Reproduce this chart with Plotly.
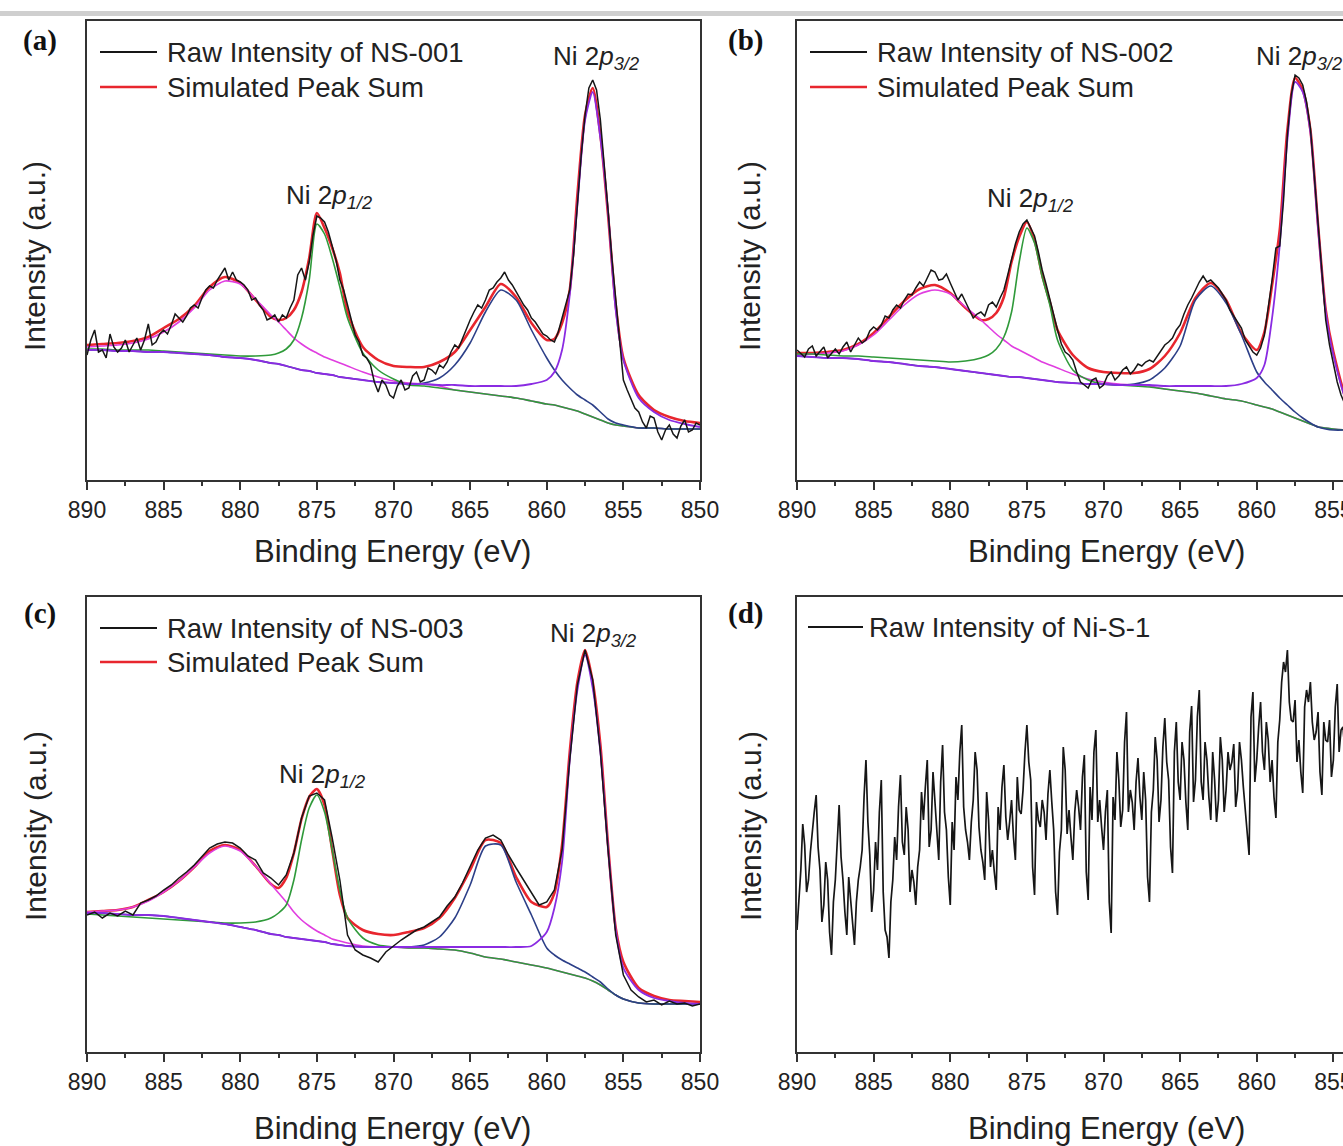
import plotly.graph_objects as go

W, H = 1343, 1146
FONT = "Liberation Sans, Arial, Helvetica, sans-serif"
SERIF = "Liberation Serif, Times New Roman, serif"

# ---------------- data ----------------
# energy grid of the fitted curves (eV)
E_FIT = [890, 889, 888, 887, 886, 885, 884, 883, 882, 881, 880, 879, 878,
         877.5, 877, 876.5, 876, 875.5, 875, 874.5, 874, 873.5, 873,
         872, 871, 870, 869, 868, 867, 866, 865, 864, 863, 862, 861, 860,
         859.5, 859, 858.5, 858, 857.5, 857, 856.5, 856, 855.5, 855,
         854, 853, 852, 851, 850]
RAW_START = 890.0
RAW_FINE = 0.25     # NS-001, NS-002 samples
RAW_COARSE = 0.5    # NS-003 sample
RAW_D_STEP = 0.125  # Ni-S-1 sample

# ---- (a) NS-001 (890 -> 850 eV, 0.25 eV step) ----
RAW_A = [125,
         140, 150, 128, 130,  122, 146, 133, 128,  132, 140, 128, 135,  142, 130, 140, 156,
         135, 138, 146, 150,  146, 155, 166, 162,  158, 164, 172, 175,  172, 182, 190, 194,
         192, 200, 206, 212,  200, 208, 200, 198,  195, 190, 180, 182,  175, 170, 160, 162,
         165, 158, 165, 162,  172, 180, 205, 212,  200, 218, 245, 264,  262, 258, 248, 235,
         220, 200, 190, 175,  160, 145, 138, 125,  122, 115, 98, 88,    100, 95, 85, 82,
         94, 100, 90, 92,     104, 108, 98, 100,  112, 110, 106, 115,  112, 118, 128, 135,
         132, 142, 152, 160,  168, 175, 172, 180,  190, 192, 198, 202,  208, 200, 195, 188,
         182, 175, 170, 162,  158, 152, 146, 144,  140, 138, 148, 162,  176, 190, 225, 280,
         325, 365, 392, 400,  390, 360, 318, 270,  222, 180, 135, 100,  90, 80, 72, 68,
         58, 52, 64, 62,      48, 40, 50, 55,     46, 42, 54, 60,      48, 50, 57, 55]
SUM_A = [135, 136, 137, 139, 143, 152, 161, 174, 193, 203, 197, 180, 163, 160, 162, 170, 188, 222, 267, 252,
         232, 207, 168, 133, 120, 114, 113, 113, 118, 128, 150, 173, 196, 183, 157, 140, 141, 157, 190, 285,
         365, 392, 345, 265, 175, 122, 85, 70, 63, 59, 57]
SAT1_A = [133, 134, 135, 137, 141, 148, 158, 172, 190, 199, 196, 181, 165, 158, 150, 142, 136, 131, 127, 123,
          120, 117, 114, 108, 103, 99, 97, 96, 94, 90, 88, 86, 84, 82, 79, 76, 75, 73, 71, 69,
          66, 63, 60, 57, 55, 54, 52, 52, 51, 51, 51]
P12_A = [131, 131, 130, 130, 130, 129, 128, 127, 126, 125, 124, 124, 125, 127, 131, 140, 162, 200, 256, 246,
         222, 193, 162, 127, 110, 101, 95, 94, 92, 90, 88, 86, 84, 82, 79, 76, 75, 73, 71, 69,
         66, 63, 60, 57, 55, 54, 52, 52, 51, 51, 51]
SAT2_A = [130, 130, 129, 129, 128, 128, 127, 126, 125, 123, 122, 120, 117, 116, 114, 112, 110, 109, 107, 106,
          105, 103, 102, 100, 98, 97, 96, 97, 102, 115, 137, 168, 190, 180, 150, 122, 110, 100, 92, 85,
          80, 75, 68, 61, 57, 55, 52, 52, 51, 51, 51]
P32_A = [130, 130, 129, 129, 128, 128, 127, 126, 125, 123, 122, 120, 117, 116, 114, 112, 110, 109, 107, 106,
         105, 103, 102, 100, 98, 97, 96, 96, 95, 95, 94, 94, 94, 94, 96, 100, 108, 130, 185, 275,
         360, 388, 342, 268, 170, 120, 82, 68, 60, 56, 53]

# ---- (b) NS-002 (890 -> 850 eV, 0.25 eV step) ----
RAW_B = [130,
         126, 123, 131, 134,  124, 128, 133, 122,  127, 131, 126, 133,  138, 128, 135, 142,
         137, 140, 149, 153,  150, 155, 164, 162,  170, 175, 172, 180,  186, 185, 192, 198,
         194, 202, 210, 208,  200, 201, 206, 197,  188, 180, 186, 178,  170, 162, 166, 168,
         164, 175, 178, 173,  182, 190, 205, 222,  236, 248, 256, 260,  252, 244, 228, 210,
         196, 180, 164, 150,  136, 128, 125, 120,  108, 98, 95, 92,    100, 102, 92, 95,
         104, 108, 100, 104,  110, 113, 106, 110,  116, 114, 118, 120,  118, 124, 130, 135,
         138, 142, 150, 155,  166, 175, 182, 190,  198, 204, 198, 200,  196, 192, 186, 180,
         170, 164, 158, 152,  140, 134, 128, 125,  132, 145, 172, 200,  232, 234, 280, 345,
         385, 405, 402, 395,  378, 352, 305, 255,  205, 160, 135, 115,  98, 85, 76, 70,
         64, 60, 57, 55,      50, 52, 56, 54,     50, 48, 53, 52,      49, 50, 51, 49]
SUM_B = [127, 127, 128, 130, 136, 147, 163, 179, 191, 195, 187, 172, 160, 161, 167, 183, 218, 243, 258, 240,
         205, 178, 150, 125, 112, 108, 107, 107, 111, 124, 147, 182, 197, 180, 147, 130, 148, 195, 250, 350,
         402, 390, 350, 255, 170, 128, 75, 60, 53, 51, 50]
SAT1_B = [125, 126, 127, 129, 135, 145, 160, 175, 186, 190, 186, 173, 160, 153, 146, 140, 134, 130, 126, 122,
          118, 115, 112, 106, 101, 98, 96, 95, 94, 91, 89, 87, 84, 81, 79, 75, 73, 71, 68, 65,
          62, 59, 56, 53, 52, 51, 50, 50, 50, 50, 50]
P12_B = [126, 126, 125, 124, 124, 123, 122, 121, 120, 119, 118, 119, 122, 125, 131, 143, 168, 218, 252, 237,
         203, 175, 140, 110, 100, 96, 95, 94, 93, 91, 89, 87, 84, 81, 79, 75, 73, 71, 68, 65,
         62, 59, 56, 53, 52, 51, 50, 50, 50, 50, 50]
SAT2_B = [124, 123, 122, 122, 121, 119, 118, 116, 114, 113, 111, 109, 107, 106, 105, 104, 103, 103, 102, 101,
          100, 99, 98, 97, 96, 96, 95, 96, 100, 112, 134, 180, 194, 177, 145, 108, 98, 90, 82, 75,
          68, 62, 57, 53, 51, 50, 50, 50, 50, 50, 50]
P32_B = [124, 123, 122, 122, 121, 119, 118, 116, 114, 113, 111, 109, 107, 106, 105, 104, 103, 103, 102, 101,
         100, 99, 98, 97, 96, 96, 95, 95, 95, 94, 94, 94, 94, 94, 96, 102, 115, 162, 235, 340,
         398, 388, 348, 252, 168, 125, 73, 59, 53, 51, 50]

# ---- (c) NS-003 (890 -> 850 eV, 0.5 eV step) ----
RAW_C = [137, 140, 134, 139, 136, 141, 137, 149, 152, 156,
         162, 167, 174, 180, 187, 195, 204, 208, 210, 209,
         204, 196, 192, 179, 174, 167, 177, 199, 234, 256,
         259, 252, 214, 172, 117, 102, 97, 94, 90, 100,
         106, 112, 117, 122, 125, 130, 135, 146, 155, 169,
         186, 202, 214, 217, 212, 197, 184, 172, 159, 147,
         150, 162, 202, 292, 367, 402, 372, 300, 202, 117,
         77, 62, 55, 50, 52, 47, 51, 48, 49, 46,
         48]
SUM_C = [140, 141, 142, 145, 152, 160, 171, 185, 201, 207, 202, 186, 168, 164, 174, 199, 233, 255, 263, 247,
         202, 157, 134, 122, 118, 117, 120, 124, 134, 154, 182, 212, 209, 175, 150, 145, 159, 207, 300, 370,
         402, 370, 307, 207, 124, 90, 64, 56, 52, 51, 50]
SAT1_C = [140, 141, 142, 145, 151, 160, 171, 185, 199, 206, 201, 186, 168, 159, 150, 140, 132, 126, 121, 117,
          113, 111, 109, 106, 105, 105, 104, 104, 103, 102, 99, 95, 93, 90, 87, 84, 82, 80, 78, 76,
          74, 71, 67, 62, 57, 53, 49, 48, 48, 48, 48]
P12_C = [138, 137, 136, 135, 134, 133, 132, 131, 130, 129, 129, 130, 134, 139, 147, 172, 212, 244, 257, 240,
         202, 162, 134, 114, 107, 105, 104, 104, 103, 102, 99, 95, 93, 90, 87, 84, 82, 80, 78, 76,
         74, 71, 67, 62, 57, 53, 49, 48, 48, 48, 48]
SAT2_C = [139, 139, 138, 137, 137, 136, 134, 132, 130, 128, 125, 122, 118, 117, 115, 114, 113, 112, 111, 110,
          108, 107, 106, 105, 105, 105, 105, 107, 115, 134, 167, 206, 207, 170, 137, 104, 97, 92, 88, 84,
          80, 75, 70, 63, 57, 53, 49, 48, 48, 48, 48]
P32_C = [139, 139, 138, 137, 137, 136, 134, 132, 130, 128, 125, 122, 118, 117, 115, 114, 113, 112, 111, 110,
         108, 107, 106, 105, 105, 105, 105, 105, 105, 105, 105, 105, 105, 105, 106, 120, 144, 190, 292, 362,
         397, 364, 300, 204, 122, 84, 62, 54, 51, 49, 48]

# ---- (d) Ni-S-1 (raw only, 890 -> 850 eV, 0.125 eV step, 8 values per eV) ----
RAW_D = [122,
         150, 182, 228, 207, 160, 172, 200, 222,   240, 257, 205, 182, 130, 147, 190, 172,
         120, 97, 150, 172, 215, 247, 195, 172,    140, 117, 175, 152, 125, 107, 150, 172,
         185, 202, 255, 292, 230, 197, 140, 162,   210, 182, 240, 272, 160, 122, 115, 94,
         150, 172, 215, 192, 245, 277, 210, 197,   245, 222, 160, 182, 170, 147, 185, 202,
         260, 232, 265, 292, 205, 222, 280, 252,   215, 192, 270, 307, 240, 222, 175, 147,
         230, 202, 275, 252, 300, 327, 245, 222,   210, 192, 230, 252, 300, 282, 225, 202,
         190, 172, 260, 232, 185, 202, 180, 162,   245, 222, 265, 287, 235, 212, 230, 252,
         215, 192, 275, 242, 238, 262, 300, 327,   290, 272, 185, 157, 250, 232, 225, 252,
         240, 212, 258, 282, 250, 222, 160, 137,   200, 222, 305, 282, 218, 242, 215, 192,
         240, 262, 245, 222, 275, 297, 180, 152,   265, 232, 300, 322, 230, 252, 225, 202,
         240, 262, 150, 119, 255, 232, 300, 272,   225, 242, 310, 340, 240, 262, 250, 222,
         270, 294, 255, 232, 280, 252, 175, 150,   240, 262, 315, 292, 230, 252, 305, 334,
         290, 272, 205, 179, 300, 330, 270, 252,   310, 292, 250, 222, 320, 346, 250, 272,
         335, 362, 270, 252, 310, 292, 255, 232,   300, 272, 230, 252, 315, 292, 240, 262,
         300, 282, 290, 308, 245, 262, 310, 292,   265, 242, 220, 197, 335, 360, 270, 292,
         325, 350, 300, 282, 330, 312, 270, 292,   255, 234, 310, 332, 370, 390, 380, 402,
         350, 332, 330, 352, 290, 312, 280, 259,   345, 362, 350, 370, 330, 312, 320, 340,
         280, 257, 330, 312, 310, 332, 275, 292,   345, 368, 300, 322, 325, 302, 350, 332,
         330, 307, 335, 352, 310, 292, 345, 327,   320, 342, 325, 302, 340, 322, 330, 352,
         330, 312, 270, 292, 315, 337, 300, 317,   335, 352, 325, 307, 345, 327, 295, 312]

RAW_NAMES = ["Raw Intensity of NS-001", "Raw Intensity of NS-002",
             "Raw Intensity of NS-003", "Raw Intensity of Ni-S-1"]
SUM_NAME = "Simulated Peak Sum"
PANEL_TAGS = ["(a)", "(b)", "(c)", "(d)"]
X_TICKS = [890, 885, 880, 875, 870, 865, 860, 855, 850]
X_MINOR = [887.5, 882.5, 877.5, 872.5, 867.5, 862.5, 857.5, 852.5]
X_TITLE = "Binding Energy (eV)"
Y_TITLE = "Intensity (a.u.)"

# ---------------- styles ----------------
C_RAW = "#161616"
C_SUM = "#e8262e"
C_SAT1 = "#e03ee0"
C_P12 = "#2f9a3a"
C_SAT2 = "#2c3f88"
C_P32 = "#8a2be2"
AX = "#333333"


def px(x):
    return x / W


def py(y):
    return 1 - y / H


# panel boxes in pixels: (left, right, top, bottom)
BOX = {1: (87, 700, 21, 480), 2: (797, 1343, 21, 480),
       3: (87, 700, 597, 1052), 4: (797, 1343, 597, 1052)}
# panels (b),(d) are as wide as (a),(c) but are cut off by the page edge
PX_PER_EV = (700 - 87) / 40.0
X_RANGE = {1: [890, 850], 3: [890, 850],
           2: [890, 890 - (1343 - 797) / PX_PER_EV],
           4: [890, 890 - (1343 - 797) / PX_PER_EV]}
Y_RANGE = {1: [0, 459], 2: [0, 459], 3: [0, 455], 4: [0, 455]}

fig = go.Figure()


def ax_ids(n):
    return ("x" if n == 1 else f"x{n}"), ("y" if n == 1 else f"y{n}")


def add_fit(n, series, color, width, name):
    xa, ya = ax_ids(n)
    fig.add_trace(go.Scatter(x=E_FIT, y=series, mode="lines", name=name,
                             line=dict(color=color, width=width, shape="spline", smoothing=0.7),
                             xaxis=xa, yaxis=ya, showlegend=False, hoverinfo="skip"))


def add_raw(n, series, step, name, width=1.5):
    xa, ya = ax_ids(n)
    xs = [RAW_START - step * i for i in range(len(series))]
    fig.add_trace(go.Scatter(x=xs, y=series, mode="lines", name=name,
                             line=dict(color=C_RAW, width=width),
                             xaxis=xa, yaxis=ya, showlegend=False))


FITS = {1: (SUM_A, SAT1_A, P12_A, SAT2_A, P32_A),
        2: (SUM_B, SAT1_B, P12_B, SAT2_B, P32_B),
        3: (SUM_C, SAT1_C, P12_C, SAT2_C, P32_C)}
RAWS = {1: (RAW_A, RAW_FINE), 2: (RAW_B, RAW_FINE), 3: (RAW_C, RAW_COARSE)}

for n in (1, 2, 3):
    s, sat1, p12, sat2, p32 = FITS[n]
    add_fit(n, s, C_SUM, 2.6, SUM_NAME)
    add_fit(n, sat1, C_SAT1, 1.6, "satellite 1")
    add_fit(n, p12, C_P12, 1.6, "Ni 2p1/2")
    add_fit(n, sat2, C_SAT2, 1.6, "satellite 2")
    add_fit(n, p32, C_P32, 1.8, "Ni 2p3/2")
    raw, step = RAWS[n]
    add_raw(n, raw, step, RAW_NAMES[n - 1])
add_raw(4, RAW_D, RAW_D_STEP, RAW_NAMES[3], width=1.7)

layout = dict(width=W, height=H, margin=dict(l=0, r=0, t=0, b=0), autosize=False,
              paper_bgcolor="white", plot_bgcolor="white", showlegend=False)

for n in (1, 2, 3, 4):
    l, r, t, b = BOX[n]
    xk = "xaxis" if n == 1 else f"xaxis{n}"
    yk = "yaxis" if n == 1 else f"yaxis{n}"
    xa, ya = ax_ids(n)
    layout[xk] = dict(domain=[px(l), px(r)], range=X_RANGE[n], anchor=ya,
                      tickmode="array", tickvals=X_TICKS, ticks="outside", ticklen=8,
                      tickwidth=1.6, tickcolor=AX, ticklabeloverflow="allow",
                      minor=dict(tickmode="array", tickvals=X_MINOR, ticks="outside",
                                 ticklen=4, tickwidth=1.6, tickcolor=AX),
                      showline=True, linecolor=AX, linewidth=1.8, mirror=True,
                      showgrid=False, zeroline=False, automargin=False,
                      tickfont=dict(family=FONT, size=23, color="#222"))
    layout[yk] = dict(domain=[py(b), py(t)], range=Y_RANGE[n], anchor=xa,
                      showticklabels=False, ticks="", showline=True, linecolor=AX,
                      linewidth=1.8, mirror=True, showgrid=False, zeroline=False,
                      automargin=False)

annotations = []
shapes = []

# top grey band
shapes.append(dict(type="rect", xref="paper", yref="paper", x0=0, x1=1,
                   y0=py(16), y1=py(11), fillcolor="#cfcfcf", line=dict(width=0)))

# panel tags
for n, (x, y) in zip((1, 2, 3, 4), [(40, 40), (745, 40), (40, 613), (745, 613)]):
    annotations.append(dict(text=f"<b>{PANEL_TAGS[n - 1]}</b>", x=px(x), y=py(y),
                            xref="paper", yref="paper", showarrow=False,
                            xanchor="center", yanchor="middle",
                            font=dict(family=SERIF, size=29, color="#111")))

# axis titles
for (x, y) in [(393, 551), (1106, 551), (393, 1128), (1106, 1128)]:
    annotations.append(dict(text=X_TITLE, x=px(x), y=py(y), xref="paper", yref="paper",
                            showarrow=False, xanchor="center", yanchor="middle",
                            font=dict(family=FONT, size=31, color="#222")))
for (x, y) in [(35, 256), (750, 256), (35, 826), (750, 826)]:
    annotations.append(dict(text=Y_TITLE, x=px(x), y=py(y), xref="paper", yref="paper",
                            showarrow=False, xanchor="center", yanchor="middle", textangle=-90,
                            font=dict(family=FONT, size=30, color="#222")))

# peak labels
P32_TXT = "Ni 2<i>p</i><sub><i>3/2</i></sub>"
P12_TXT = "Ni 2<i>p</i><sub><i>1/2</i></sub>"
for txt, (x, y) in [(P32_TXT, (551, 58)), (P12_TXT, (284, 196)),
                    (P32_TXT, (1254, 58)), (P12_TXT, (985, 199)),
                    (P32_TXT, (548, 634)), (P12_TXT, (277, 775))]:
    annotations.append(dict(text=txt, x=px(x), y=py(y), xref="paper", yref="paper",
                            showarrow=False, xanchor="left", yanchor="middle",
                            font=dict(family=FONT, size=26, color="#222")))

# in-panel legends (line swatch + label)
LEG = {1: (100, 157, 165, 52, 87), 2: (810, 867, 875, 52, 87),
       3: (100, 157, 165, 628, 662), 4: (808, 863, 867, 627, None)}
for n in (1, 2, 3, 4):
    x0, x1, xt, y1, y2 = LEG[n]
    shapes.append(dict(type="line", xref="paper", yref="paper", x0=px(x0), x1=px(x1),
                       y0=py(y1), y1=py(y1), line=dict(color=C_RAW, width=2)))
    annotations.append(dict(text=RAW_NAMES[n - 1], x=px(xt), y=py(y1), xref="paper",
                            yref="paper", showarrow=False, xanchor="left", yanchor="middle",
                            font=dict(family=FONT, size=27.5, color="#222")))
    if y2 is not None:
        shapes.append(dict(type="line", xref="paper", yref="paper", x0=px(x0), x1=px(x1),
                           y0=py(y2), y1=py(y2), line=dict(color=C_SUM, width=2.6)))
        annotations.append(dict(text=SUM_NAME, x=px(xt), y=py(y2), xref="paper",
                                yref="paper", showarrow=False, xanchor="left", yanchor="middle",
                                font=dict(family=FONT, size=27.5, color="#222")))

layout["annotations"] = annotations
layout["shapes"] = shapes
fig.update_layout(**layout)
fig.write_html("out.html")
